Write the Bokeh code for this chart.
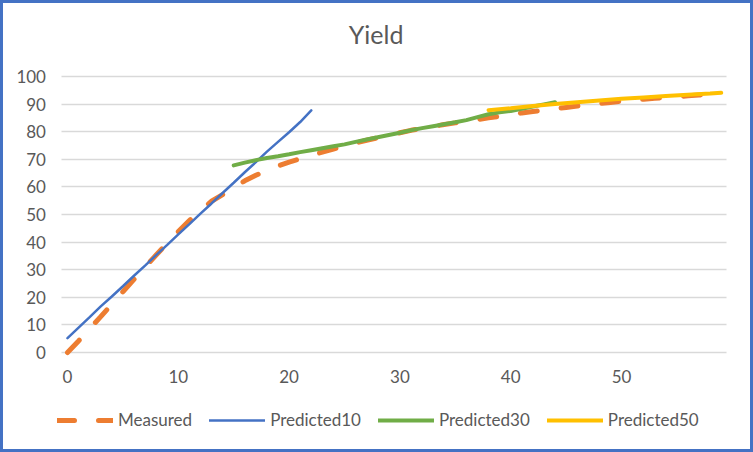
from bokeh.plotting import figure
from bokeh.models import FixedTicker, Legend, LegendItem, Label, Range1d
from bokeh.embed import file_html
from bokeh.resources import INLINE

measured_x = list(range(0, 60))
measured_y = [0, 4.2, 8.6, 13, 17.5, 22, 26.5, 31, 35.3, 39.6,
              43.8, 47.8, 51.5, 54.8, 57.2, 59.8, 62.2, 64.2, 66, 67.6,
              69, 70.2, 71.4, 72.6, 73.7, 74.8, 75.9, 76.9, 77.8, 78.7,
              79.6, 80.5, 81.2, 81.9, 82.6, 83.2, 83.8, 84.4, 85, 85.6,
              86.2, 86.8, 87.3, 87.8, 88.3, 88.8, 89.3, 89.7, 90.2, 90.6,
              91, 91.4, 91.8, 92.1, 92.4, 92.7, 93, 93.3, 93.5, 93.8]

p10_x = list(range(0, 23))
p10_y = [5.2, 9, 12.8, 16.7, 20.3, 24, 27.8, 31.5, 35.3, 39, 42.8, 46.5,
         50.3, 54, 57.8, 61.5, 65.3, 69, 72.8, 76.3, 79.8, 83.5, 87.7]

p30_x = list(range(15, 45))
p30_y = [67.8, 68.8, 69.7, 70.5, 71.1, 71.8, 72.6, 73.3, 74, 74.7,
         75.4, 76.3, 77.2, 78, 78.8, 79.6, 80.5, 81.3, 82, 82.7,
         83.4, 84.2, 85.3, 86.3, 87, 87.5, 88.3, 89.1, 89.9, 90.7]

p50_x = [38, 40, 42, 44, 46, 48, 50, 52, 54, 56, 58, 59]
p50_y = [87.8, 88.5, 89.3, 90, 90.7, 91.3, 91.9, 92.4, 92.9, 93.4, 93.8, 94.1]

x_ticks = [0, 10, 20, 30, 40, 50]
y_ticks = [0, 10, 20, 30, 40, 50, 60, 70, 80, 90, 100]

FONT = "Lato"
GREY = "#595959"

# frame covers the whole canvas; axes are pinned inside it
p = figure(width=753, height=452, output_backend="svg", toolbar_location=None,
           x_range=Range1d(-67 / 11.08, (753 - 67) / 11.08),
           y_range=Range1d((352 - 452) / 2.76, 352 / 2.76),
           min_border=0, min_border_left=0, min_border_right=0,
           min_border_top=0, min_border_bottom=0)
p.outline_line_color = "#4472C4"
p.outline_line_width = 5
p.background_fill_color = "white"
p.border_fill_color = "white"

p.xgrid.grid_line_color = None
p.ygrid.grid_line_color = "#D9D9D9"
p.ygrid.grid_line_width = 1.5
p.ygrid.cross_bounds = (-0.5, 59.5)
p.xaxis.ticker = FixedTicker(ticks=x_ticks)
p.yaxis.ticker = FixedTicker(ticks=y_ticks)
p.xaxis.fixed_location = 0
p.yaxis.fixed_location = -0.5
for ax in (p.xaxis, p.yaxis):
    ax.axis_line_color = None
    ax.major_tick_line_color = None
    ax.minor_tick_line_color = None
    ax.major_tick_out = 0
    ax.major_tick_in = 0
    ax.major_label_text_font = FONT
    ax.major_label_text_font_size = "17px"
    ax.major_label_text_color = GREY
p.yaxis.major_label_standoff = 16
p.xaxis.major_label_standoff = 17

r_m = p.line(measured_x, measured_y, line_color="#ED7D31", line_width=5,
             line_dash="17 24", line_cap="round")
r10 = p.line(p10_x, p10_y, line_color="#4472C4", line_width=2.5, line_cap="round")
r30 = p.line(p30_x, p30_y, line_color="#70AD47", line_width=4, line_cap="round")
r50 = p.line(p50_x, p50_y, line_color="#FFC000", line_width=4, line_cap="round")

title = Label(x=27.85, y=115.3, text="Yield", text_align="center",
              text_baseline="middle", text_font=FONT,
              text_font_size="25px", text_color=GREY)
p.add_layout(title)

legend = Legend(items=[LegendItem(label="Measured", renderers=[r_m]),
                       LegendItem(label="Predicted10", renderers=[r10]),
                       LegendItem(label="Predicted30", renderers=[r30]),
                       LegendItem(label="Predicted50", renderers=[r50])],
                orientation="horizontal", location=(57, 22),
                glyph_width=56, glyph_height=20, label_standoff=5, spacing=17,
                padding=0, margin=0, border_line_color=None,
                background_fill_alpha=0,
                label_text_font=FONT, label_text_font_size="17px",
                label_text_color=GREY)
p.add_layout(legend)

open("out.html", "w").write(file_html(p, INLINE))
